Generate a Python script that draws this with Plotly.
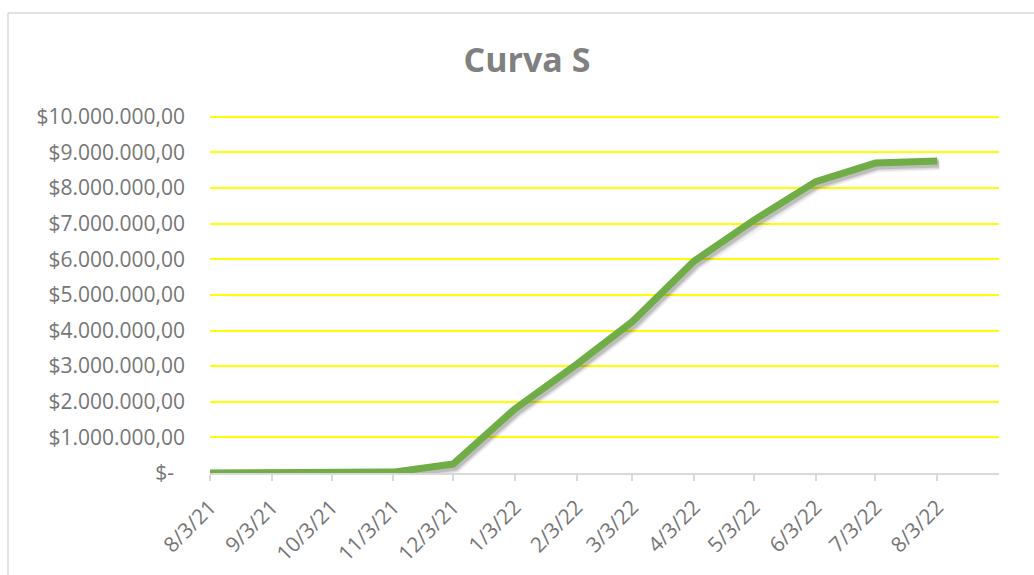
import plotly.graph_objects as go
import datetime as dt

# Monthly cumulative cost (S-curve)
fechas = ["2021-08-03", "2021-09-03", "2021-10-03", "2021-11-03", "2021-12-03",
          "2022-01-03", "2022-02-03", "2022-03-03", "2022-04-03", "2022-05-03",
          "2022-06-03", "2022-07-03", "2022-08-03"]
etiquetas_x = ["8/3/21", "9/3/21", "10/3/21", "11/3/21", "12/3/21", "1/3/22",
               "2/3/22", "3/3/22", "4/3/22", "5/3/22", "6/3/22", "7/3/22", "8/3/22"]
acumulado = [0, 5000, 15000, 25000, 250000, 1800000, 3050000, 4250000,
             5950000, 7100000, 8180000, 8700000, 8760000]

y_ticks = [0, 1e6, 2e6, 3e6, 4e6, 5e6, 6e6, 7e6, 8e6, 9e6, 10e6]
y_labels = ["$-\u00a0\u00a0", "$1.000.000,00", "$2.000.000,00", "$3.000.000,00",
            "$4.000.000,00", "$5.000.000,00", "$6.000.000,00", "$7.000.000,00",
            "$8.000.000,00", "$9.000.000,00", "$10.000.000,00"]

W, H = 1034, 575
L, R, T, B = 210, 35, 115, 102
plot_w, plot_h = W - L - R, H - T - B

d0 = dt.datetime(2021, 8, 3)
d1 = dt.datetime(2022, 9, 3)
x_range = [d0.isoformat(), d1.isoformat()]
y_range = [0, 10.05e6]

# soft drop shadow: same series on a hidden overlay axis shifted a few pixels
ms_per_px = (d1 - d0).total_seconds() * 1000 / plot_w
val_per_px = (y_range[1] - y_range[0]) / plot_h
dx_px, dy_px = 2, 3
shift = dt.timedelta(milliseconds=dx_px * ms_per_px)
x2_range = [(d0 - shift).isoformat(), (d1 - shift).isoformat()]
y2_range = [y_range[0] + dy_px * val_per_px, y_range[1] + dy_px * val_per_px]

fig = go.Figure()
# base subplot carrying the visible axes and gridlines
fig.add_trace(go.Scatter(x=[], y=[], mode="lines", hoverinfo="skip", showlegend=False))
for w, a in [(13, 0.05), (10, 0.09), (7, 0.14)]:
    fig.add_trace(go.Scatter(x=fechas, y=acumulado, mode="lines", xaxis="x2", yaxis="y2",
                             line=dict(color=f"rgba(0,0,0,{a})", width=w),
                             hoverinfo="skip", showlegend=False))
fig.add_trace(go.Scatter(x=fechas, y=acumulado, mode="lines", xaxis="x3", yaxis="y3",
                         line=dict(color="#70ad47", width=7),
                         showlegend=False))

font_fam = "Open Sans, Calibri, sans-serif"
label_color = "#767676"

fig.update_layout(
    width=W, height=H,
    margin=dict(l=L, r=R, t=T, b=B, autoexpand=False),
    paper_bgcolor="white", plot_bgcolor="white",
    title=dict(text="<b>Curva S</b>", x=527 / W, xref="container", xanchor="center",
               y=1 - 60 / H, yref="container", yanchor="middle",
               font=dict(family=font_fam, size=34, color="#808080")),
    xaxis=dict(type="date", range=x_range, tickvals=fechas, ticktext=etiquetas_x,
               tickangle=-45, showgrid=False, zeroline=False, automargin=False,
               showline=True, linecolor="#d9d9d9", linewidth=1.5,
               ticks="outside", ticklen=6, tickcolor="#d9d9d9", tickwidth=1.5,
               ticklabelstandoff=6,
               tickfont=dict(family=font_fam, size=21, color=label_color)),
    yaxis=dict(range=y_range, tickvals=y_ticks, ticktext=y_labels, automargin=False,
               showgrid=True, gridcolor="#ffff00", gridwidth=1.5,
               zeroline=False, showline=False, ticks="",
               ticklabelstandoff=24,
               tickfont=dict(family=font_fam, size=21, color=label_color)),
    xaxis2=dict(type="date", range=x2_range, overlaying="x", visible=False),
    yaxis2=dict(range=y2_range, overlaying="y", visible=False),
    xaxis3=dict(type="date", range=x_range, overlaying="x", visible=False),
    yaxis3=dict(range=y_range, overlaying="y", visible=False),
)

# chart area border (top and left edges visible)
def px_to_paper_x(px):
    return (px - L) / plot_w

def px_to_paper_y(py):
    return (H - B - py) / plot_h

border = dict(color="#d9d9d9", width=1.5)
fig.add_shape(type="line", xref="paper", yref="paper",
              x0=px_to_paper_x(8), y0=px_to_paper_y(13),
              x1=px_to_paper_x(W + 5), y1=px_to_paper_y(13), line=border)
fig.add_shape(type="line", xref="paper", yref="paper",
              x0=px_to_paper_x(8), y0=px_to_paper_y(13),
              x1=px_to_paper_x(8), y1=px_to_paper_y(H + 5), line=border)

fig.write_html("out.html")
